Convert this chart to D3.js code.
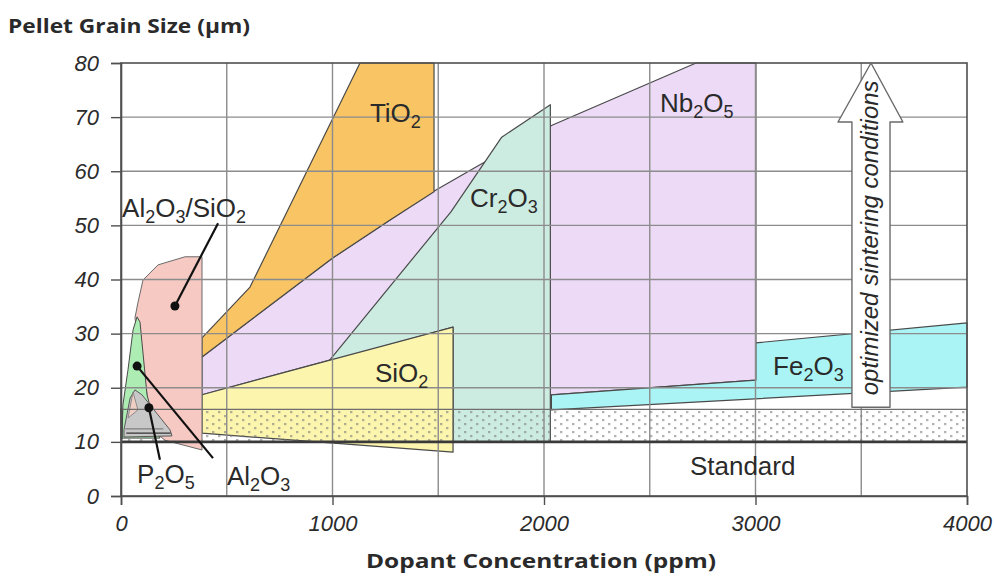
<!DOCTYPE html>
<html>
<head>
<meta charset="utf-8">
<script src="https://cdn.jsdelivr.net/npm/d3@7"></script>
<style>
  body { margin: 0; background: #fff; }
  text { font-family: "Liberation Sans", Arial, sans-serif; }
</style>
</head>
<body>
<svg id="chart" width="994" height="576"></svg>
<script>
// ---- axes ----
const xTicks = [0, 1000, 2000, 3000, 4000];
const yTicks = [0, 10, 20, 30, 40, 50, 60, 70, 80];
const xGrid = [500, 1000, 1500, 2000, 2500, 3000, 3500];
const yGrid = [10, 20, 30, 40, 50, 60, 70];

// ---- dopant regions: [ppm, grain size µm] ----
const nb2o5 = [[383,25.7],[1002,44.0],[1272,51.0],[1475,56.2],[1697,61.2],[2038,68.5],[2719,80],[3002,80],[3002,21.4],[2035,18.7],[988,25.1],[383,18.7]];
const tio2  = [[383,29.2],[610,38.6],[1130,80],[1480,80],[1480,56.2],[1272,51.0],[1002,44.0],[383,25.7]];
const cr2o3 = [[980,24.8],[1560,52.5],[1800,66.3],[2030,72.3],[2030,10],[1570,10],[1570,31.2]];
const sio2  = [[383,18.7],[988,25.1],[1570,31.2],[1570,8.1],[383,11.6]];
const fe2o3 = [[2035,18.7],[3002,21.4],[3002,28.3],[4000,32.0],[4000,20.1],[2035,15.9]];
const al2o3sio2 = [[383,44.2],[303,44.2],[175,42.7],[104,39.9],[80,35.7],[66,32.9],[113,21.4],[137,15.0],[161,11.8],[208,10.3],[383,8.5]];
const al2o3 = [[76,33.1],[90,32.1],[123,18.7],[161,13.1],[184,10.7],[5,10.7],[9,16.8],[33,23.3],[57,30.7]];
const p2o5  = [[14,12.2],[43,18.1],[66,19.6],[99,18.7],[175,15.0],[232,12.2],[241,11.1],[14,10.9]];
const p2o5Inner = [[33,14.4],[57,19.2],[80,15.9]];

// standard sintering band
const standardLevel = 10;
const standardTop = 16;

// labels: [ppm, µm] of text start / baseline
const labels = [
  { parts: [["TiO",0],["2",1]], at: [1177, 69.1] },
  { parts: [["Nb",0],["2",1],["O",0],["5",1]], at: [2548, 70.9] },
  { parts: [["Cr",0],["2",1],["O",0],["3",1]], at: [1650, 53.4] },
  { parts: [["Al",0],["2",1],["O",0],["3",1],["/SiO",0],["2",1]], at: [5, 51.5] },
  { parts: [["SiO",0],["2",1]], at: [1201, 21.1] },
  { parts: [["Fe",0],["2",1],["O",0],["3",1]], at: [3083, 22.4] },
  { parts: [["Standard",0]], at: [2690, 3.9] },
  { parts: [["P",0],["2",1],["O",0],["5",1]], at: [76, 2.4] },
  { parts: [["Al",0],["2",1],["O",0],["3",1]], at: [501, 2.0] }
];

// leader lines: dot -> label end
const pointers = [
  { dot: [255, 35.1], end: [459, 50.4] },
  { dot: [76, 24.0],  end: [435, 7.0] },
  { dot: [132, 16.3], end: [184, 6.7] }
];

// arrow annotation
const arrowShaft = [3456, 3636];
const arrowHead = [3390, 3697];
const arrowBottom = 16.4, arrowNeck = 69.1, arrowTip = 80;
const arrowText = "optimized sintering conditions";

const W = 994, H = 576;
const margin = { left: 121, right: 27, top: 63, bottom: 80 };
const svg = d3.select("#chart");

const x = d3.scaleLinear().domain([0, 4000]).range([margin.left, W - margin.right]);
const y = d3.scaleLinear().domain([0, 80]).range([H - margin.bottom, margin.top]);

const defs = svg.append("defs");
const pat = defs.append("pattern").attr("id", "dots")
  .attr("patternUnits", "userSpaceOnUse").attr("width", 12).attr("height", 8)
  .attr("x", x(0)).attr("y", y(standardTop));
pat.append("rect").attr("x", 1).attr("y", 2).attr("width", 2.4).attr("height", 1.3).attr("fill", "#7d7d7d");
pat.append("rect").attr("x", 7).attr("y", 6).attr("width", 2.4).attr("height", 1.3).attr("fill", "#7d7d7d");

const line = d3.line().x(d => x(d[0])).y(d => y(d[1]));
const poly = (pts, fill, stroke = "#4a4a4a", sw = 1.2) =>
  svg.append("path").attr("d", line(pts) + "Z")
    .attr("fill", fill).attr("stroke", stroke).attr("stroke-width", sw).attr("stroke-linejoin", "round");

// regions
poly(nb2o5, "#ecdaf7");
poly(tio2, "#f8c464");
poly(cr2o3, "#cdece1");
poly(sio2, "#fbf5ad");
poly(fe2o3, "#aaf4f5");

// dotted standard band
svg.append("rect")
  .attr("x", x(0)).attr("y", y(standardTop))
  .attr("width", x(4000) - x(0)).attr("height", y(standardLevel) - y(standardTop))
  .attr("fill", "url(#dots)");

poly(al2o3sio2, "#f6c9c3", "#6a6a6a", 1);
poly(al2o3, "#adecb2", "#4a4a4a", 1);
poly(p2o5, "#c8c8c8", "#5a5a5a", 1);
poly(p2o5Inner, "#efcfc4", "#7a7a7a", 0.8);
svg.append("path").attr("d", line([[2,16.2],[2,10.4]]))
  .attr("stroke", "#333").attr("stroke-width", 2).attr("fill", "none");
svg.append("path").attr("d", line([[25,11.6],[235,11.6]]))
  .attr("stroke", "#333").attr("stroke-width", 1.2).attr("fill", "none");
svg.append("path").attr("d", line([[20,12.4],[200,12.4]]))
  .attr("stroke", "#555").attr("stroke-width", 0.8).attr("fill", "none");

// grid
const grid = svg.append("g").attr("stroke", "#8c8c8c").attr("stroke-width", 1.4);
grid.selectAll("line.v").data(xGrid).join("line").attr("class", "v")
  .attr("x1", d => x(d)).attr("x2", d => x(d)).attr("y1", y(0)).attr("y2", y(80));
grid.selectAll("line.h").data(yGrid).join("line").attr("class", "h")
  .attr("x1", x(0)).attr("x2", x(4000)).attr("y1", d => y(d)).attr("y2", d => y(d));

// band borders
svg.append("line").attr("x1", x(0)).attr("x2", x(4000))
  .attr("y1", y(standardTop)).attr("y2", y(standardTop))
  .attr("stroke", "#6e6e6e").attr("stroke-width", 1.3);
svg.append("line").attr("x1", x(0)).attr("x2", x(4000))
  .attr("y1", y(standardLevel)).attr("y2", y(standardLevel))
  .attr("stroke", "#3a3a3a").attr("stroke-width", 2.6);

// frame
svg.append("rect").attr("x", x(0)).attr("y", y(80))
  .attr("width", x(4000) - x(0)).attr("height", y(0) - y(80))
  .attr("fill", "none").attr("stroke", "#4f4f4f").attr("stroke-width", 1.6);

// axes
const yAxis = svg.append("g").attr("transform", `translate(${x(0)},0)`)
  .call(d3.axisLeft(y).tickValues(yTicks).tickSize(10).tickPadding(12).tickFormat(d3.format("d")));
const xAxis = svg.append("g").attr("transform", `translate(0,${y(0)})`)
  .call(d3.axisBottom(x).tickValues(xTicks).tickSize(9).tickPadding(10).tickFormat(d3.format("d")));
[yAxis, xAxis].forEach(g => {
  g.select(".domain").attr("stroke", "#4f4f4f").attr("stroke-width", 1.6);
  g.selectAll(".tick line").attr("stroke", "#4f4f4f").attr("stroke-width", 1.4);
  g.selectAll(".tick text").attr("fill", "#2b2b2b")
    .style("font-family", "'Liberation Sans', Arial, sans-serif")
    .style("font-style", "italic").style("font-size", "22px");
});

// leader lines
pointers.forEach(p => {
  svg.append("line").attr("x1", x(p.dot[0])).attr("y1", y(p.dot[1]))
    .attr("x2", x(p.end[0])).attr("y2", y(p.end[1]))
    .attr("stroke", "#111").attr("stroke-width", 2.2);
  svg.append("circle").attr("cx", x(p.dot[0])).attr("cy", y(p.dot[1]))
    .attr("r", 4.5).attr("fill", "#111");
});

// region labels with subscripts
labels.forEach(l => {
  const t = svg.append("text").attr("x", x(l.at[0])).attr("y", y(l.at[1]))
    .attr("fill", "#2a2a2a").style("font-size", "26px");
  let shifted = false;
  l.parts.forEach(([s, sub]) => {
    const ts = t.append("tspan").text(s);
    if (sub && !shifted) { ts.attr("dy", 6).style("font-size", "18px"); shifted = true; }
    else if (!sub && shifted) { ts.attr("dy", -6); shifted = false; }
    else if (sub) ts.style("font-size", "18px");
  });
});

// arrow
const arrowPts = [
  [arrowShaft[0], arrowBottom], [arrowShaft[0], arrowNeck], [arrowHead[0], arrowNeck],
  [(arrowShaft[0] + arrowShaft[1]) / 2, arrowTip], [arrowHead[1], arrowNeck],
  [arrowShaft[1], arrowNeck], [arrowShaft[1], arrowBottom]
];
poly(arrowPts, "#ffffff", "#6a6a6a", 1.4);
svg.append("text")
  .attr("transform", `translate(${x(3579)},${y(47.7)}) rotate(-90)`)
  .attr("text-anchor", "middle").attr("fill", "#2a2a2a")
  .style("font-style", "italic").style("font-size", "24px")
  .text(arrowText);

// titles
svg.append("text").attr("x", 8).attr("y", 33)
  .attr("textLength", 242).attr("lengthAdjust", "spacingAndGlyphs")
  .style("font-family", "'Open Sans', sans-serif").style("font-weight", "bold")
  .style("font-size", "20px").attr("fill", "#2a2a2a")
  .text("Pellet Grain Size (µm)");
svg.append("text").attr("x", 366).attr("y", 568)
  .attr("textLength", 350).attr("lengthAdjust", "spacingAndGlyphs")
  .style("font-family", "'Open Sans', sans-serif").style("font-weight", "bold")
  .style("font-size", "19px").attr("fill", "#2a2a2a")
  .text("Dopant Concentration (ppm)");
</script>
</body>
</html>
